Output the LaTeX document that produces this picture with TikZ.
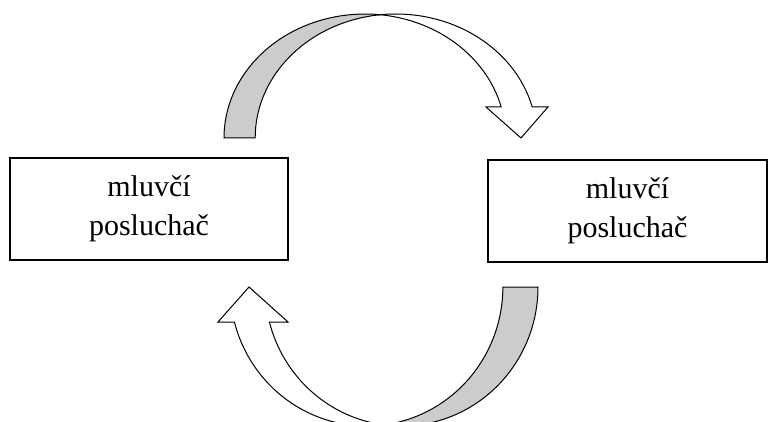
\documentclass[tikz,border=0pt]{standalone}
\usepackage{fontspec}
\setmainfont{Liberation Serif}
\definecolor{shd}{gray}{0.8}
\begin{document}
\begin{tikzpicture}[x=1pt,y=1pt,
  box/.style={draw,line width=1.2pt,minimum width=278pt,minimum height=102pt,inner sep=0pt,align=center,font=\fontsize{30}{39}\selectfont},
  band/.style={draw=black,line width=1pt,line join=miter,fill=white},
  shade/.style={band,fill=shd}]
\useasboundingbox (0,0) rectangle (768,421);
\clip (0,0) rectangle (768,421);
% boxes
\node[box] (L) at (149,212) {mluvčí\\posluchač};
\node[box,minimum width=279pt] (R) at (627.5,210) {mluvčí\\posluchač};
% top curved arrow
\path[shade] (224,283) arc[start angle=180,end angle=83.8,x radius=141,y radius=124]
  arc[start angle=96.5,end angle=180,x radius=141,y radius=124] -- cycle;
\path[band] (379.9,406.3) arc[start angle=83.8,end angle=14.48,x radius=141,y radius=124]
  -- (486,314) -- (521,283) -- (548,314) -- (532.2,314)
  arc[start angle=14.48,end angle=96.5,x radius=141,y radius=124] -- cycle;
% bottom curved arrow
\path[shade] (538,134) arc[start angle=0,end angle=-97.4,x radius=136.5,y radius=139]
  arc[start angle=-82.6,end angle=0,x radius=136.5,y radius=139] -- cycle;
\path[band] (383.9,-3.86) arc[start angle=-97.4,end angle=-165.4,x radius=136.5,y radius=139]
  -- (288,99) -- (249,134) -- (218,99) -- (234.4,99)
  arc[start angle=-165.4,end angle=-82.6,x radius=136.5,y radius=139] -- cycle;
\end{tikzpicture}
\end{document}
